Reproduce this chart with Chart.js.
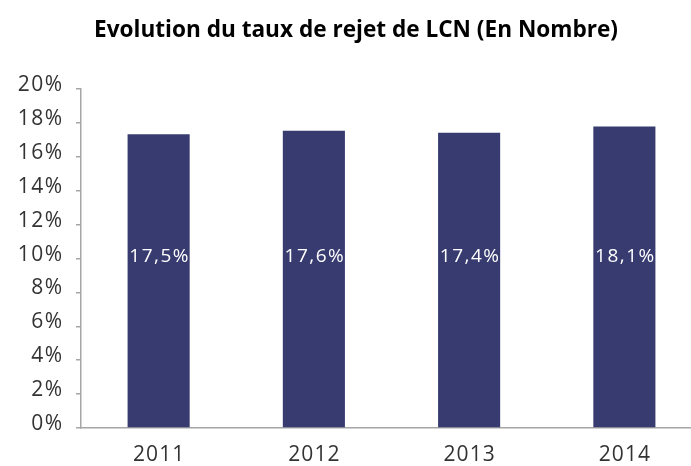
<!DOCTYPE html>
<html>
<head>
<meta charset="utf-8">
<script src="https://cdn.jsdelivr.net/npm/chart.js@4/dist/chart.umd.min.js"></script>
<style>
  html, body { margin: 0; padding: 0; background: #fff; overflow: hidden; }
  #wrap { width: 712px; height: 466px; }
</style>
</head>
<body>
<div id="wrap"><canvas id="myChart"></canvas></div>
<script>
var years = ["2011", "2012", "2013", "2014"];
// bar heights as drawn in the picture (%)
var tauxRejet = [17.33, 17.54, 17.42, 17.8];
// values written on the bars
var barLabels = ["17,5%", "17,6%", "17,4%", "18,1%"];
var yTicks = [0, 2, 4, 6, 8, 10, 12, 14, 16, 18, 20];

var barColor = "#373b6f";
var axisColor = "#a6a6a6";
var textColor = "#333333";

// the original labels are widely spaced, canvas letterSpacing does that
function spacedLabels(scale, spacing, dx, dy) {
  if (scale._spaced) return;
  scale._spaced = true;
  var orig = scale.drawLabels;
  scale.drawLabels = function (area) {
    var c = this.ctx;
    c.save();
    c.letterSpacing = spacing;
    c.translate(dx, dy);
    orig.call(this, area);
    c.restore();
  };
}

// write the percentages inside the bars, level with the 10% tick
var barText = {
  id: "barText",
  afterDatasetsDraw(chart) {
    var ctx = chart.ctx;
    var meta = chart.getDatasetMeta(0);
    var y = chart.scales.y.getPixelForValue(10.1);
    ctx.save();
    ctx.fillStyle = "#ffffff";
    ctx.font = "19px 'Open Sans'";
    ctx.letterSpacing = "1.5px";
    ctx.textAlign = "center";
    ctx.textBaseline = "middle";
    meta.data.forEach(function (bar, i) {
      ctx.fillText(barLabels[i], bar.x + 1, y);
    });
    ctx.restore();
  },
};

var ctx = document.getElementById("myChart").getContext("2d");
var chart = new Chart(ctx, {
  type: "bar",
  data: {
    labels: years,
    datasets: [
      {
        label: "Taux de rejet",
        data: tauxRejet,
        backgroundColor: barColor,
        borderWidth: 0,
        categoryPercentage: 1,
        barPercentage: 0.4,
      },
    ],
  },
  options: {
    responsive: true,
    maintainAspectRatio: false,
    animation: false,
    layout: { padding: { left: 10, right: 10, top: 0, bottom: 0 } },
    plugins: {
      legend: { display: false },
      tooltip: { enabled: false },
      title: {
        display: true,
        text: "Evolution du taux de rejet de LCN (En Nombre)",
        color: "#000000",
        font: { family: "'Open Sans'", size: 22.6, weight: "bold" },
        padding: { top: 17, bottom: 45 },
      },
    },
    scales: {
      x: {
        offset: true,
        afterFit(scale) {
          scale.height = 38;
          spacedLabels(scale, "1px", 0.5, 0);
        },
        grid: { display: true, drawOnChartArea: false, drawTicks: false },
        border: { color: axisColor, width: 1.5 },
        ticks: {
          color: textColor,
          padding: 14,
          font: { family: "'Open Sans'", size: 21 },
        },
      },
      y: {
        min: 0,
        max: 20,
        afterFit(scale) {
          scale.width = 71;
          spacedLabels(scale, "1.5px", 1.5, -4);
        },
        afterBuildTicks(scale) {
          scale.ticks = yTicks.map(function (v) { return { value: v }; });
        },
        grid: {
          drawOnChartArea: false,
          drawTicks: true,
          tickLength: 5,
          color: axisColor,
          lineWidth: 1.5,
        },
        border: { color: axisColor, width: 1.5 },
        ticks: {
          color: textColor,
          padding: 14,
          font: { family: "'Open Sans'", size: 21 },
          callback: function (v) { return v + "%"; },
        },
      },
    },
  },
  plugins: [barText],
});
</script>
</body>
</html>
